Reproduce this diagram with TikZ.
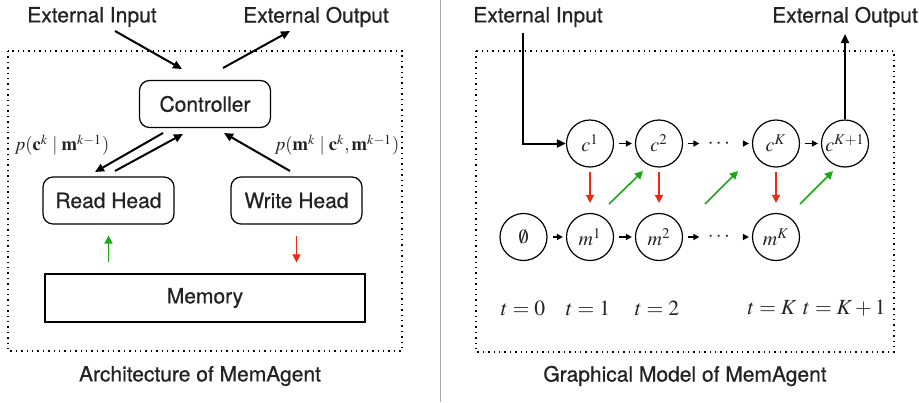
\documentclass[tikz,border=0pt]{standalone}
\usepackage{amsmath}
\usepackage{mathptmx}
\usepackage[no-math]{fontspec}
\setmainfont{TeX Gyre Heros}[FakeBold=0.7]
\usetikzlibrary{shapes,arrows.meta}
\definecolor{ReadGreen}{RGB}{25,170,15}
\definecolor{WriteRed}{RGB}{240,40,20}
\definecolor{TextGray}{RGB}{35,35,35}

\begin{document}
\begin{tikzpicture}[x=0.5pt, y=-0.5pt, font=\fontsize{10.5}{12}\selectfont, text=TextGray]
		\tikzstyle{box}=[draw, rounded corners=5pt, line width=0.6pt, minimum width=65.5pt, minimum height=23.5pt]
		\tikzstyle{var}=[draw, shape=circle, line width=0.6pt, minimum size=23.5pt, inner sep=0pt, font=\fontsize{10}{12}\selectfont]
		\tikzstyle{plabel}=[font=\fontsize{9.3}{11}\selectfont]
		\tikzstyle{tlabel}=[font=\fontsize{10.8}{13}\selectfont]
		\tikzstyle{flow}=[-{Triangle[length=4.5pt,width=4pt]}, line width=1pt]
		\tikzstyle{chain}=[-{Triangle[length=3pt,width=3pt]}, line width=0.8pt, shorten <=2.5pt, shorten >=1.5pt]
		\tikzstyle{rd}=[-{Triangle[length=4pt,width=4pt]}, line width=0.8pt, ReadGreen]
		\tikzstyle{wr}=[-{Triangle[length=4pt,width=4pt]}, line width=0.8pt, WriteRed]
		\useasboundingbox (0,0) rectangle (919,402);
		% left: architecture
		\draw[dotted, line width=0.7pt] (8,51) rectangle (402,351);
		\node (inL) at (92,17) {External Input};
		\node (outL) at (316,17) {External Output};
		\node [box] (ctrl) at (205,104) {Controller};
		\node [box] (read) at (108.5,200.5) {Read Head};
		\node [box] (write) at (296.5,200.5) {Write Head};
		\node [draw, line width=0.6pt, minimum width=160pt, minimum height=24pt] (mem) at (205,298) {Memory};
		\node [plabel] (pc) at (62,145) {$p(\mathbf{c}^k \mid \mathbf{m}^{k-1})$};
		\node [plabel] (pm) at (337,145) {$p(\mathbf{m}^k \mid \mathbf{c}^k, \mathbf{m}^{k-1})$};
		\node (capL) at (200,376) {Architecture of MemAgent};
		\coordinate (inLs) at (115,31);
		\coordinate (inLe) at (182,69);
		\coordinate (outLs) at (223,68);
		\coordinate (outLe) at (290,31);
		\coordinate (rd1s) at (163,133);
		\coordinate (rd1e) at (95,172);
		\coordinate (rd2s) at (115,171);
		\coordinate (rd2e) at (183,134);
		\coordinate (wrs) at (290,171);
		\coordinate (wre) at (224,133);
		\draw[flow] (inLs) -- (inLe);
		\draw[flow] (outLs) -- (outLe);
		\draw[flow] (rd1s) -- (rd1e);
		\draw[flow] (rd2s) -- (rd2e);
		\draw[flow] (wrs) -- (wre);
		\draw[rd, shorten <=5.5pt, shorten >=5.5pt] (mem.north -| read.south) -- (read.south);
		\draw[wr, shorten <=5.5pt, shorten >=5.5pt] (write.south) -- (mem.north -| write.south);
		% separator
		\draw[gray!70, line width=0.5pt] (440,0) -- (440,402);
		% right: graphical model
		\draw[dotted, line width=0.7pt] (476,51) rectangle (894,352);
		\node (inR) at (538,17) {External Input};
		\node (outR) at (845,17) {External Output};
		\node [var] (c1) at (590,143.5) {$c^1$};
		\node [var] (c2) at (659,143.5) {$c^2$};
		\node [inner sep=2.5pt] (dc) at (720,143.5) {$\cdots$};
		\node [var] (cK) at (776,143.5) {$c^K$};
		\node [var] (cK1) at (845,143.5) {$c^{K+1}$};
		\node [var] (m0) at (523.5,237) {$\emptyset$};
		\node [var] (m1) at (590,237) {$m^1$};
		\node [var] (m2) at (659,237) {$m^2$};
		\node [inner sep=2.5pt] (dm) at (720,237) {$\cdots$};
		\node [var] (mK) at (776,237) {$m^K$};
		\node [tlabel] (t0) at (523,308) {$t=0$};
		\node [tlabel] (t1) at (588,308) {$t=1$};
		\node [tlabel] (t2) at (657,308) {$t=2$};
		\node [tlabel] (tK) at (772,308) {$t=K$};
		\node [tlabel] (tK1) at (844.5,308) {$t=K+1$};
		\node (capR) at (685,376) {Graphical Model of MemAgent};
		\coordinate (inRs) at (523,33);
		\coordinate (outRe) at (845,34);
		\coordinate (g1s) at (609,204);
		\coordinate (g1e) at (643,171);
		\coordinate (g2s) at (705,204);
		\coordinate (g2e) at (738,171);
		\coordinate (g3s) at (800,204);
		\coordinate (g3e) at (833,171);
		\draw[flow] (inRs) |- (c1.west);
		\draw[flow] (cK1.north) -- (outRe);
		\draw[chain] (c1) -- (c2);
		\draw[chain] (c2) -- (dc);
		\draw[chain] (dc) -- (cK);
		\draw[chain] (cK) -- (cK1);
		\draw[chain] (m0) -- (m1);
		\draw[chain] (m1) -- (m2);
		\draw[chain] (m2) -- (dm);
		\draw[chain] (dm) -- (mK);
		\draw[wr, shorten <=2pt, shorten >=5pt] (c1) -- (m1);
		\draw[wr, shorten <=2pt, shorten >=5pt] (c2) -- (m2);
		\draw[wr, shorten <=2pt, shorten >=5pt] (cK) -- (mK);
		\draw[rd] (g1s) -- (g1e);
		\draw[rd] (g2s) -- (g2e);
		\draw[rd] (g3s) -- (g3e);
	\end{tikzpicture}
\end{document}
